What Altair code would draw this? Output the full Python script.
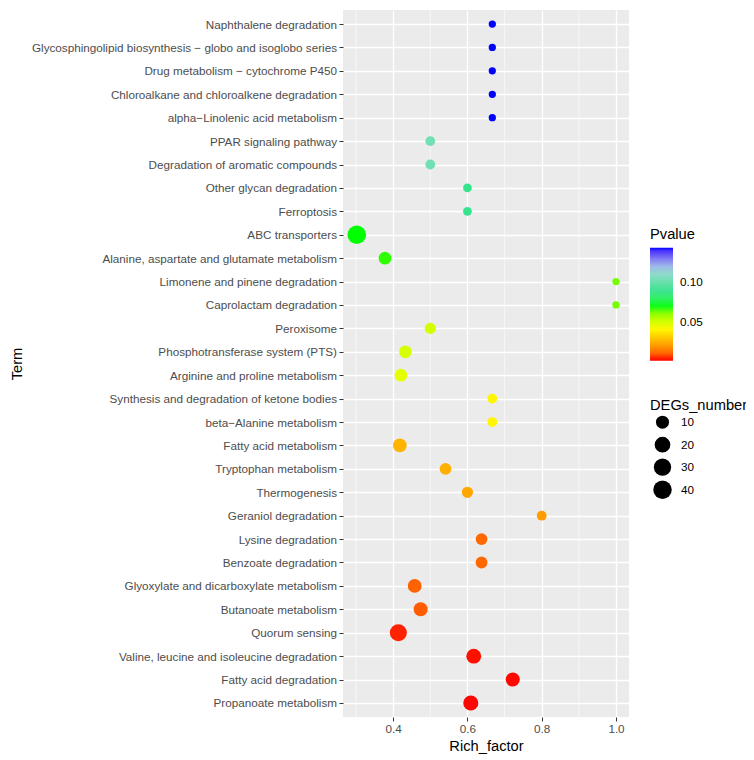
import altair as alt
import pandas as pd

terms = [
    "Naphthalene degradation",
    "Glycosphingolipid biosynthesis − globo and isoglobo series",
    "Drug metabolism − cytochrome P450",
    "Chloroalkane and chloroalkene degradation",
    "alpha−Linolenic acid metabolism",
    "PPAR signaling pathway",
    "Degradation of aromatic compounds",
    "Other glycan degradation",
    "Ferroptosis",
    "ABC transporters",
    "Alanine, aspartate and glutamate metabolism",
    "Limonene and pinene degradation",
    "Caprolactam degradation",
    "Peroxisome",
    "Phosphotransferase system (PTS)",
    "Arginine and proline metabolism",
    "Synthesis and degradation of ketone bodies",
    "beta−Alanine metabolism",
    "Fatty acid metabolism",
    "Tryptophan metabolism",
    "Thermogenesis",
    "Geraniol degradation",
    "Lysine degradation",
    "Benzoate degradation",
    "Glyoxylate and dicarboxylate metabolism",
    "Butanoate metabolism",
    "Quorum sensing",
    "Valine, leucine and isoleucine degradation",
    "Fatty acid degradation",
    "Propanoate metabolism",
]
rich_factor = [0.667, 0.667, 0.667, 0.667, 0.667, 0.5, 0.5, 0.6, 0.6, 0.302,
               0.378, 1.0, 1.0, 0.5, 0.433, 0.421, 0.667, 0.667, 0.418, 0.541,
               0.6, 0.8, 0.638, 0.638, 0.458, 0.474, 0.414, 0.617, 0.722, 0.609]
degs = [2, 2, 2, 2, 2, 4, 4, 3, 3, 42,
        9, 2, 2, 6, 9, 9, 4, 4, 12, 7,
        6, 4, 7, 7, 12, 13, 28, 16, 13, 17]
pvalue = [0.144, 0.144, 0.144, 0.144, 0.144, 0.104, 0.104, 0.088, 0.088, 0.069,
          0.068, 0.063, 0.063, 0.050, 0.049, 0.047, 0.040, 0.040, 0.025, 0.024,
          0.022, 0.020, 0.010, 0.010, 0.009, 0.008, 0.0015, 0.0006, 0.0004, 0.0003]

x_major = [0.4, 0.6, 0.8, 1.0]
x_minor = [0.3, 0.5, 0.7, 0.9]
size_breaks = [10, 20, 30, 40]
p_breaks = [0.05, 0.10]
p_stops = [0.0002, 0.042, 0.069, 0.088, 0.104, 0.116, 0.144]
p_colors = ["#FF0000", "#FFFF00", "#00FF00", "#36E48E", "#72DFB4", "#A6D6E2", "#0000FF"]

df = pd.DataFrame({"Term": terms, "Rich_factor": rich_factor,
                   "DEGs_number": degs, "Pvalue": pvalue})
minor_df = pd.DataFrame({"v": x_minor})

FONT = "Liberation Sans"
xscale = alt.Scale(domain=[0.265, 1.035], nice=False, zero=False)
xaxis = alt.Axis(values=x_major, format=".1f", title="Rich_factor",
                 grid=True, gridColor="white", gridWidth=1.3,
                 ticks=True, tickColor="#333333", tickSize=4, tickWidth=1,
                 labelColor="#4D4D4D", labelFontSize=11.7, labelPadding=2,
                 labelFont=FONT, domain=False,
                 titleFont=FONT, titleFontSize=14.7, titleColor="black",
                 titleFontWeight="normal", titleY=29, titleBaseline="middle")

minor = alt.Chart(minor_df).mark_rule(color="white", strokeWidth=0.6).encode(
    x=alt.X("v:Q", scale=xscale, axis=xaxis)
)

pts = alt.Chart(df).mark_circle(opacity=1, strokeWidth=0).encode(
    x=alt.X("Rich_factor:Q", scale=xscale, axis=xaxis),
    y=alt.Y("Term:N", sort=terms, scale=alt.Scale(type="point", padding=0.6),
            axis=alt.Axis(title="Term", grid=True, gridColor="white", gridWidth=1.3,
                          ticks=True, tickColor="#333333", tickSize=4, tickWidth=1,
                          labelColor="#4D4D4D", labelFontSize=11.7, labelPadding=2.5,
                          labelFont=FONT, domain=False, labelLimit=400,
                          titleFont=FONT, titleFontSize=14.7, titleColor="black",
                          titleFontWeight="normal", titleX=-326, titleY=353.5,
                          titleAngle=270, titleAlign="center", titleBaseline="middle")),
    color=alt.Color("Pvalue:Q",
                    scale=alt.Scale(domain=p_stops, range=p_colors, interpolate="lab"),
                    legend=alt.Legend(title="Pvalue", orient="none", legendX=307, legendY=217,
                                      direction="vertical", values=p_breaks, format=".2f",
                                      gradientLength=113, gradientThickness=23,
                                      gradientStrokeWidth=0, labelOffset=7,
                                      labelFont=FONT, labelFontSize=11.7, labelColor="black",
                                      titleFont=FONT, titleFontSize=14.7, titleColor="black",
                                      titleFontWeight="normal", titlePadding=6)),
    size=alt.Size("DEGs_number:Q",
                  scale=alt.Scale(type="pow", exponent=0.35, domain=[2, 42],
                                  range=[53, 350], zero=False),
                  legend=alt.Legend(title="DEGs_number", orient="none", legendX=307, legendY=388,
                                    values=size_breaks, symbolType="circle",
                                    symbolFillColor="black", symbolStrokeWidth=0,
                                    symbolOpacity=1, symbolOffset=3, labelOffset=9,
                                    rowPadding=3.5, clipHeight=19,
                                    labelFont=FONT, labelFontSize=11.7, labelColor="black",
                                    titleFont=FONT, titleFontSize=14.7, titleColor="black",
                                    titleFontWeight="normal", titlePadding=0)),
)

chart = alt.layer(minor, pts).properties(
    width=286, height=707,
    autosize=alt.AutoSizeParams(type="none"),
    padding={"left": 335, "top": 2, "right": 117, "bottom": 41},
).configure(font=FONT).configure_view(fill="#EBEBEB", stroke=None)

chart.save("out.html", embed_options={"renderer": "svg", "actions": False})
